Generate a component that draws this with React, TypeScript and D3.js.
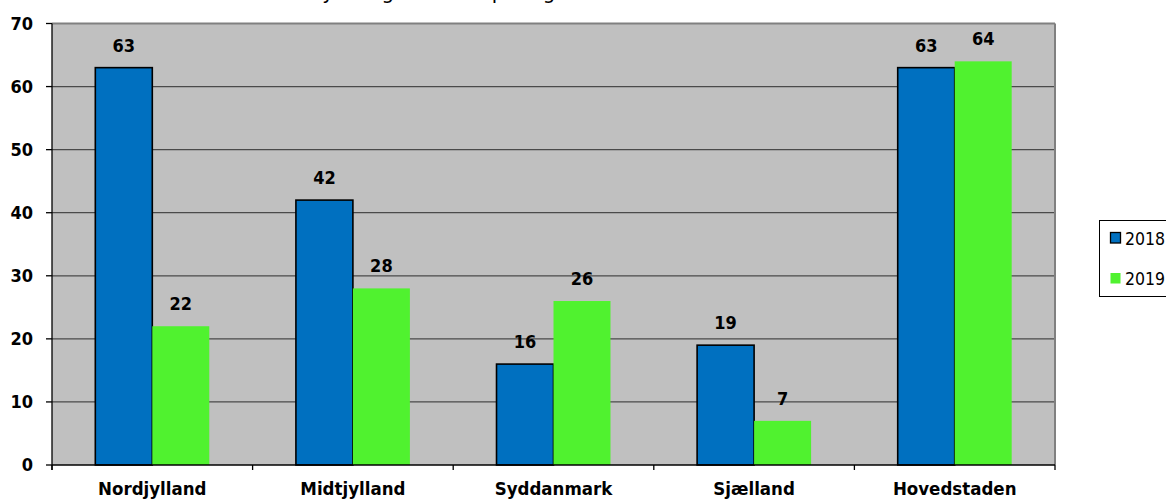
import React from "react";
import * as d3 from "d3";

const categories = ["Nordjylland", "Midtjylland", "Syddanmark", "Sjælland", "Hovedstaden"];
const seriesNames = ["2018", "2019"];
const values2018 = [63, 42, 16, 19, 63];
const values2019 = [22, 28, 26, 7, 64];
const yTicks = [0, 10, 20, 30, 40, 50, 60, 70];
const title = "Antal nye klager fordelt på region";

const W = 1166;
const H = 499;
const plot = { left: 52, right: 1055, top: 23.5, bottom: 465 };
const colors: Record<string, string> = { "2018": "#0070C0", "2019": "#50F22F" };
const FONT = "'DejaVu Sans Condensed', 'DejaVu Sans', sans-serif";

export default function App() {
  const x0 = d3.scaleBand<string>().domain(categories).range([plot.left, plot.right]).padding(0);
  const x1 = d3
    .scaleBand<string>()
    .domain(seriesNames)
    .range([0, x0.bandwidth()])
    .paddingInner(0)
    .paddingOuter(0.76);
  const y = d3.scaleLinear().domain([0, 70]).range([plot.bottom, plot.top]);

  const series = [
    { name: "2018", values: values2018 },
    { name: "2019", values: values2019 },
  ];

  const boundaries = [...categories.map((c) => x0(c) as number), plot.right];

  return (
    <div style={{ position: "fixed", left: 0, top: 0 }}>
      <svg width={W} height={H} style={{ display: "block", background: "#fff" }}>
        {/* title, partly above the visible area */}
        <text x={252} y={-1} fontFamily={FONT} fontStretch="condensed" fontSize={22} fill="#000">
          {title}
        </text>

        {/* plot background */}
        <rect
          x={plot.left}
          y={plot.top}
          width={plot.right - plot.left}
          height={plot.bottom - plot.top}
          fill="#C0C0C0"
        />

        {/* gridlines */}
        {yTicks
          .filter((t) => t > 0 && t < 70)
          .map((t) => (
            <line
              key={"g" + t}
              x1={plot.left}
              x2={plot.right}
              y1={y(t)}
              y2={y(t)}
              stroke="#4a4a4a"
              strokeWidth={1.3}
            />
          ))}

        {/* top and right frame */}
        <line x1={plot.left} x2={plot.right} y1={plot.top} y2={plot.top} stroke="#808080" strokeWidth={2} />
        <line x1={plot.right} x2={plot.right} y1={plot.top} y2={plot.bottom} stroke="#808080" strokeWidth={2} />

        {/* bars */}
        {series.map((s) =>
          s.values.map((v, i) => {
            const bx = (x0(categories[i]) as number) + (x1(s.name) as number);
            const bw = x1.bandwidth();
            const outlined = s.name === "2018";
            return (
              <g key={s.name + i}>
                <rect
                  x={bx}
                  y={y(v)}
                  width={bw}
                  height={y(0) - y(v)}
                  fill={colors[s.name]}
                  stroke={outlined ? "#000" : "none"}
                  strokeWidth={outlined ? 1.6 : 0}
                />
                <text
                  x={bx + bw / 2}
                  y={y(v) - 16}
                  textAnchor="middle"
                  fontFamily={FONT}
                  fontStretch="condensed"
                  fontWeight="bold"
                  fontSize={18}
                  fill="#000"
                >
                  {v}
                </text>
              </g>
            );
          })
        )}

        {/* y axis */}
        <line x1={plot.left} x2={plot.left} y1={plot.top} y2={plot.bottom + 5} stroke="#000" strokeWidth={1.3} />
        {yTicks.map((t) => (
          <g key={"t" + t}>
            <line x1={plot.left - 6} x2={plot.left} y1={y(t)} y2={y(t)} stroke="#000" strokeWidth={1.3} />
            <text
              x={33}
              y={y(t)}
              dy="0.36em"
              textAnchor="end"
              fontFamily={FONT}
              fontStretch="condensed"
              fontWeight="bold"
              fontSize={18}
              fill="#000"
            >
              {t}
            </text>
          </g>
        ))}

        {/* x axis */}
        <line x1={plot.left} x2={plot.right} y1={plot.bottom} y2={plot.bottom} stroke="#000" strokeWidth={1.3} />
        {boundaries.map((bx, i) => (
          <line key={"b" + i} x1={bx} x2={bx} y1={plot.bottom} y2={plot.bottom + 5} stroke="#000" strokeWidth={1.3} />
        ))}
        {categories.map((c) => (
          <text
            key={c}
            x={(x0(c) as number) + x0.bandwidth() / 2}
            y={495}
            textAnchor="middle"
            fontFamily={FONT}
            fontStretch="condensed"
            fontWeight="bold"
            fontSize={18.5}
            fill="#000"
          >
            {c}
          </text>
        ))}

        {/* legend */}
        <rect x={1099.5} y={220.5} width={80} height={76} fill="#fff" stroke="#000" strokeWidth={1} />
        {seriesNames.map((n, i) => (
          <g key={"l" + n} transform={`translate(1110, ${232 + i * 40.5})`}>
            <rect
              x={0.5}
              y={0.5}
              width={10}
              height={10.5}
              fill={colors[n]}
              stroke={n === "2018" ? "#000" : "none"}
              strokeWidth={1.3}
            />
            <text x={15} y={12.5} fontFamily={FONT} fontStretch="condensed" fontSize={17.5} fill="#000">
              {n}
            </text>
          </g>
        ))}
      </svg>
    </div>
  );
}
